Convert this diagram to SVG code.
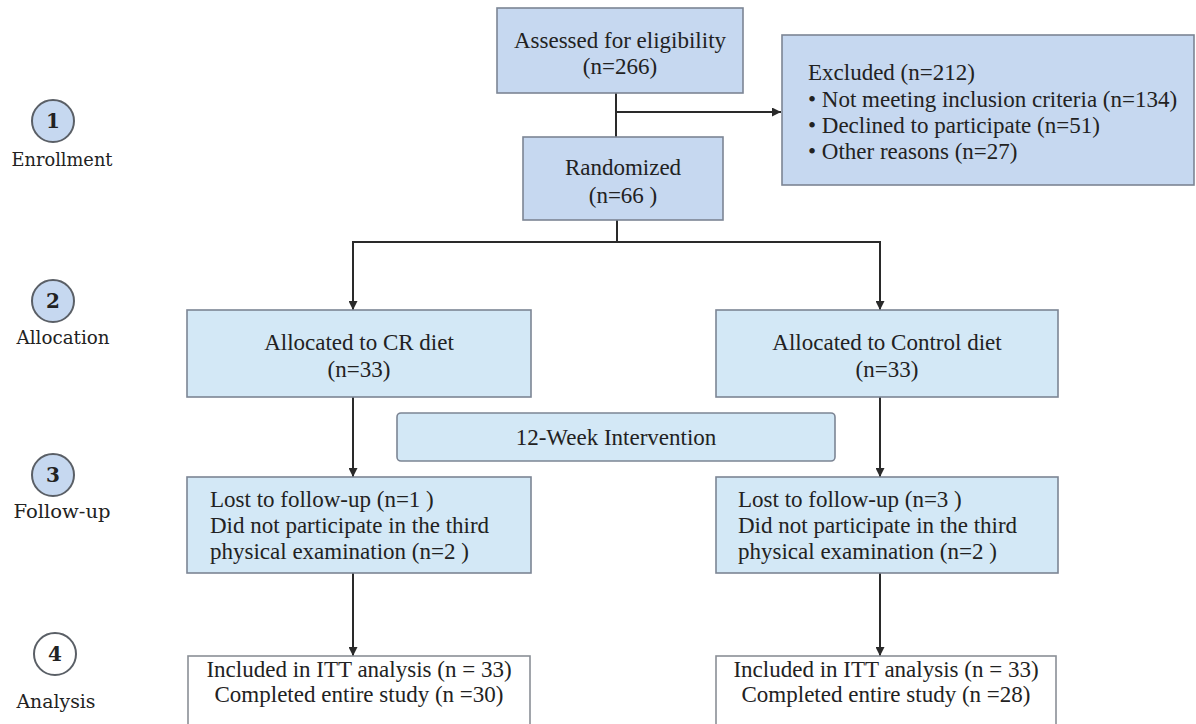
<svg xmlns="http://www.w3.org/2000/svg" width="1196" height="724" viewBox="0 0 1196 724">
<style>
.bg{fill:#ffffff}
.enr{fill:#c6d8f0;stroke:#7c8594;stroke-width:1.6}
.alc{fill:#d3e8f6;stroke:#7c8594;stroke-width:1.6}
.ana{fill:#ffffff;stroke:#8a8f96;stroke-width:1.6}
.t{font-family:"Liberation Serif","Times New Roman",serif;font-size:23px;fill:#222}
.c{text-anchor:middle}
.lbl{font-family:"DejaVu Serif",Georgia,serif;font-size:19px;fill:#222;text-anchor:middle}
.num{font-family:"DejaVu Serif",Georgia,serif;font-size:20px;font-weight:bold;fill:#222;text-anchor:middle}
.circ{fill:#c6d8f0;stroke:#5a5f66;stroke-width:2}
.circw{fill:#ffffff;stroke:#5a5f66;stroke-width:2}
.ln{fill:none;stroke:#2a2a2a;stroke-width:2}
</style>
<defs>
<marker id="ah" viewBox="0 0 10 10" refX="10" refY="5" markerWidth="9" markerHeight="9" markerUnits="userSpaceOnUse" orient="auto">
<path d="M0,0 L10,5 L0,10 z" fill="#2a2a2a"/>
</marker>
</defs>
<rect class="bg" x="0" y="0" width="1196" height="724"/>

<g id="stage-labels">
<g id="stage1">
<circle class="circ" cx="53" cy="121" r="21"/>
<text class="num" x="53" y="128">1</text>
<text class="lbl" x="62" y="166" textLength="101" lengthAdjust="spacingAndGlyphs">Enrollment</text>
</g>
<g id="stage2">
<circle class="circ" cx="53" cy="301" r="21"/>
<text class="num" x="53" y="308">2</text>
<text class="lbl" x="63" y="344" textLength="93" lengthAdjust="spacingAndGlyphs">Allocation</text>
</g>
<g id="stage3">
<circle class="circ" cx="53" cy="475" r="21"/>
<text class="num" x="53" y="482">3</text>
<text class="lbl" x="62" y="518" textLength="97" lengthAdjust="spacingAndGlyphs">Follow-up</text>
</g>
<g id="stage4">
<circle class="circw" cx="55" cy="654" r="21"/>
<text class="num" x="55" y="661">4</text>
<text class="lbl" x="56" y="708" textLength="79" lengthAdjust="spacingAndGlyphs">Analysis</text>
</g>
</g>

<g id="connectors">
<path class="ln" d="M616,93 V137"/>
<path class="ln" d="M616,112 H781" marker-end="url(#ah)"/>
<path class="ln" d="M617,220 V242"/>
<path class="ln" d="M352,242 H880"/>
<path class="ln" d="M353,241 V310" marker-end="url(#ah)"/>
<path class="ln" d="M880,241 V310" marker-end="url(#ah)"/>
<path class="ln" d="M353,397 V477" marker-end="url(#ah)"/>
<path class="ln" d="M880,397 V477" marker-end="url(#ah)"/>
<path class="ln" d="M353,573 V656" marker-end="url(#ah)"/>
<path class="ln" d="M880,573 V656" marker-end="url(#ah)"/>
</g>

<g id="assessed">
<rect class="enr" x="497" y="8" width="246" height="85"/>
<text class="t c" x="620" y="48">Assessed for eligibility</text>
<text class="t c" x="620" y="74">(n=266)</text>
</g>

<g id="excluded">
<rect class="enr" x="782" y="35" width="412" height="150"/>
<text class="t" x="808" y="80">Excluded (n=212)</text>
<text class="t" x="808" y="107">• Not meeting inclusion criteria (n=134)</text>
<text class="t" x="808" y="133">• Declined to participate (n=51)</text>
<text class="t" x="808" y="159">• Other reasons (n=27)</text>
</g>

<g id="randomized">
<rect class="enr" x="523" y="137" width="200" height="83"/>
<text class="t c" x="623" y="175">Randomized</text>
<text class="t c" x="623" y="203">(n=66 )</text>
</g>

<g id="alloc-cr">
<rect class="alc" x="187" y="310" width="344" height="87"/>
<text class="t c" x="359" y="350">Allocated to CR diet</text>
<text class="t c" x="359" y="377">(n=33)</text>
</g>

<g id="alloc-control">
<rect class="alc" x="716" y="310" width="342" height="87"/>
<text class="t c" x="887" y="350">Allocated to Control diet</text>
<text class="t c" x="887" y="377">(n=33)</text>
</g>

<g id="intervention">
<rect class="alc" x="397" y="413" width="438" height="48" rx="4"/>
<text class="t c" x="616" y="445">12-Week Intervention</text>
</g>

<g id="followup-cr">
<rect class="alc" x="187" y="477" width="344" height="96"/>
<text class="t" x="210" y="507">Lost to follow-up (n=1 )</text>
<text class="t" x="210" y="533">Did not participate in the third</text>
<text class="t" x="210" y="559">physical examination (n=2 )</text>
</g>

<g id="followup-control">
<rect class="alc" x="716" y="477" width="342" height="96"/>
<text class="t" x="738" y="507">Lost to follow-up (n=3 )</text>
<text class="t" x="738" y="533">Did not participate in the third</text>
<text class="t" x="738" y="559">physical examination (n=2 )</text>
</g>

<g id="analysis-cr">
<rect class="ana" x="188" y="656" width="342" height="76"/>
<text class="t c" x="359" y="677">Included in ITT analysis (n = 33)</text>
<text class="t c" x="359" y="702">Completed entire study (n =30)</text>
</g>

<g id="analysis-control">
<rect class="ana" x="716" y="656" width="340" height="76"/>
<text class="t c" x="886" y="677">Included in ITT analysis (n = 33)</text>
<text class="t c" x="886" y="702">Completed entire study (n =28)</text>
</g>
</svg>
